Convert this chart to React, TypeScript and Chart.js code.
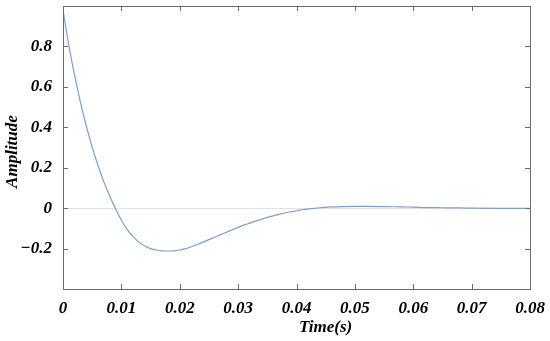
import React, { useEffect, useRef } from "react";
import { Chart, registerables } from "chart.js";

Chart.register(...registerables);

const timeValues = [
  0, 0.001, 0.002, 0.003, 0.004, 0.005, 0.006, 0.007, 0.008, 0.009,
  0.01, 0.011, 0.012, 0.013, 0.014, 0.015, 0.016, 0.017, 0.018, 0.019,
  0.02, 0.021, 0.022, 0.023, 0.024, 0.025, 0.026, 0.027, 0.028, 0.029,
  0.03, 0.031, 0.032, 0.033, 0.034, 0.035, 0.036, 0.037, 0.038, 0.039,
  0.04, 0.041, 0.042, 0.043, 0.044, 0.045, 0.046, 0.048, 0.05, 0.052,
  0.055, 0.058, 0.06, 0.062, 0.065, 0.068, 0.07, 0.075, 0.08,
];

const amplitudeValues = [
  0.98, 0.805, 0.655, 0.522, 0.405, 0.302, 0.211, 0.13, 0.06, -0.003,
  -0.06, -0.106, -0.141, -0.168, -0.187, -0.2, -0.207, -0.211, -0.212, -0.211,
  -0.207, -0.2, -0.191, -0.18, -0.168, -0.156, -0.144, -0.131, -0.119, -0.107,
  -0.095, -0.084, -0.074, -0.064, -0.055, -0.046, -0.038, -0.031, -0.024, -0.018,
  -0.013, -0.008, -0.004, -0.001, 0.002, 0.004, 0.006, 0.008, 0.009, 0.009,
  0.008, 0.006, 0.005, 0.003, 0.002, 0.001, 0.0, -0.001, -0.001,
];

const xTickValues = [0, 0.01, 0.02, 0.03, 0.04, 0.05, 0.06, 0.07, 0.08];
const yTickValues = [-0.4, -0.2, 0, 0.2, 0.4, 0.6, 0.8, 1.0];
const yLabelledTicks = [-0.2, 0, 0.2, 0.4, 0.6, 0.8];

const xTitle = "Time(s)";
const yTitle = "Amplitude";

const FONT_FAMILY = "'Liberation Serif', 'Times New Roman', serif";
const BOX_COLOR = "#6b6b6b";

const fmtY = (v: number) => {
  const r = Math.round(v * 10) / 10;
  if (r === 0) return "0";
  const s = Math.abs(r).toFixed(1);
  return r < 0 ? "\u2212" + s : s;
};

const fmtX = (v: number) => {
  const r = Math.round(v * 100) / 100;
  if (r === 0) return "0";
  return r.toFixed(2);
};

const framePlugin = {
  id: "frame",
  afterDraw(chart: any) {
    const { ctx, chartArea, scales } = chart;
    const { left, right, top, bottom } = chartArea;
    const xs = scales.x;
    const ys = scales.y;
    ctx.save();
    ctx.strokeStyle = BOX_COLOR;
    ctx.lineWidth = 1;
    ctx.strokeRect(Math.round(left) + 0.5, Math.round(top) + 0.5, Math.round(right - left), Math.round(bottom - top));
    const tl = 5;
    ctx.beginPath();
    xTickValues.forEach((v) => {
      const px = Math.round(xs.getPixelForValue(v)) + 0.5;
      ctx.moveTo(px, bottom);
      ctx.lineTo(px, bottom - tl);
      ctx.moveTo(px, top);
      ctx.lineTo(px, top + tl);
    });
    yTickValues.forEach((v) => {
      const py = Math.round(ys.getPixelForValue(v)) + 0.5;
      ctx.moveTo(left, py);
      ctx.lineTo(left + tl, py);
      ctx.moveTo(right, py);
      ctx.lineTo(right - tl, py);
    });
    ctx.stroke();

    ctx.fillStyle = "#000";
    ctx.font = `italic bold 17px ${FONT_FAMILY}`;
    ctx.textAlign = "center";
    ctx.textBaseline = "middle";
    ctx.fillText(xTitle, xs.getPixelForValue(0.045), 328);

    ctx.save();
    ctx.translate(13, ys.getPixelForValue(0.28));
    ctx.rotate(-Math.PI / 2);
    ctx.fillText(yTitle, 0, 0);
    ctx.restore();
    ctx.restore();
  },
};

export default function App() {
  const canvasRef = useRef<HTMLCanvasElement | null>(null);

  useEffect(() => {
    document.body.style.margin = "0";
    const canvas = canvasRef.current;
    if (!canvas) return;
    const points = timeValues.map((t, i) => ({ x: t, y: amplitudeValues[i] }));
    const chart = new Chart(canvas, {
      type: "line",
      data: {
        datasets: [
          {
            data: points,
            borderColor: "#7d9ec9",
            borderWidth: 1.2,
            pointRadius: 0,
            fill: false,
            cubicInterpolationMode: "monotone",
          },
        ],
      },
      options: {
        responsive: false,
        animation: false,
        events: [],
        layout: { padding: { top: 6, right: 20, left: 0, bottom: 0 } },
        plugins: {
          legend: { display: false },
          tooltip: { enabled: false },
          title: { display: false },
        },
        scales: {
          x: {
            type: "linear",
            min: 0,
            max: 0.08,
            afterBuildTicks: (scale: any) => {
              scale.ticks = xTickValues.map((v) => ({ value: v }));
            },
            afterFit: (scale: any) => {
              scale.height = 52;
              scale.paddingLeft = 0;
              scale.paddingRight = 0;
              scale.paddingTop = 0;
              scale.paddingBottom = 0;
            },
            grid: { display: false, drawTicks: false },
            border: { display: false },
            ticks: {
              padding: 9,
              maxRotation: 0,
              autoSkip: false,
              color: "#000",
              font: { family: FONT_FAMILY, size: 17, style: "italic", weight: "bold" },
              callback: (v: any) => fmtX(Number(v)),
            },
          },
          y: {
            type: "linear",
            min: -0.4,
            max: 1.0,
            afterBuildTicks: (scale: any) => {
              scale.ticks = yTickValues.map((v) => ({ value: v }));
            },
            afterFit: (scale: any) => {
              scale.width = 63;
              scale.paddingLeft = 0;
              scale.paddingRight = 0;
              scale.paddingTop = 0;
              scale.paddingBottom = 0;
            },
            grid: {
              drawTicks: false,
              color: (c: any) =>
                c.tick && Math.abs(c.tick.value) < 1e-9 ? "#e3e3e3" : "rgba(0,0,0,0)",
              lineWidth: 1,
            },
            border: { display: false },
            ticks: {
              padding: 11,
              autoSkip: false,
              color: "#000",
              font: { family: FONT_FAMILY, size: 17, style: "italic", weight: "bold" },
              callback: (v: any) => {
                const n = Number(v);
                return yLabelledTicks.some((t) => Math.abs(t - n) < 1e-6) ? fmtY(n) : "";
              },
            },
          },
        },
      },
      plugins: [framePlugin],
    } as any);
    return () => chart.destroy();
  }, []);

  return (
    <div style={{ width: 550, height: 341, background: "#fff" }}>
      <canvas ref={canvasRef} width={550} height={341} style={{ display: "block" }} />
    </div>
  );
}
